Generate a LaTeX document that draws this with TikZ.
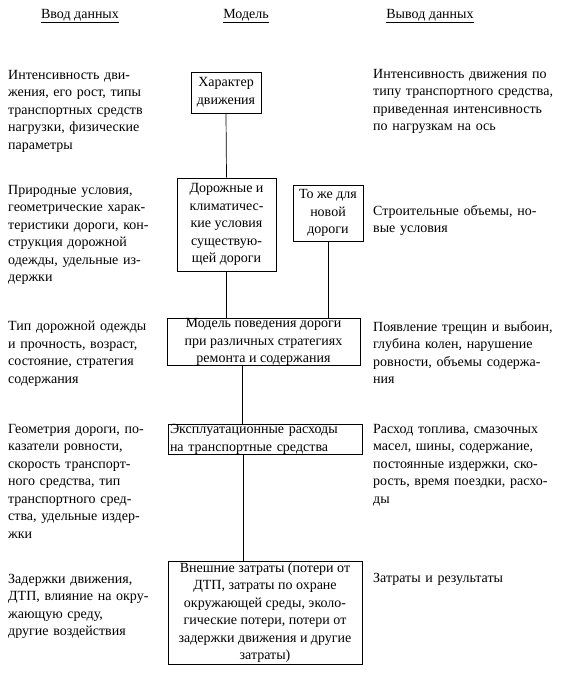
\documentclass[tikz,border=0pt]{standalone}
\usepackage{fontspec}
\setmainfont{Liberation Serif}
\usetikzlibrary{calc,positioning}
\newcommand{\jline}[1]{\makebox[\linewidth][s]{#1}}

\begin{document}
\begin{tikzpicture}[x=1pt,y=-1pt]
  \tikzset{
    lbl/.style={font=\fontsize{14}{17.5}\selectfont},
    head/.style={lbl,inner sep=0pt},
    lcol/.style={lbl,anchor=north west,text width=156pt,align=left,inner sep=0pt},
    rcol/.style={lcol,text width=196pt},
    blk/.style={lbl,draw=black,line width=0.7pt,inner sep=0pt,align=center},
    link/.style={draw=black,line width=0.7pt},
  }
  \useasboundingbox (0,0) rectangle (574,680);

  % column heads
  \node[head] (hin) at (80,16) {\underline{Ввод данных}};
  \node[head] (hmod) at (246,16) {\underline{Модель}};
  \node[head] (hout) at (430,16) {\underline{Вывод данных}};

  % model boxes
  \node[blk,minimum width=70pt,minimum height=41pt] (traffic) at (226,92.5) {Характер\\движения};
  \node[blk,minimum width=99pt,minimum height=93pt] (road) at (226.5,224.5)
    {Дорожные и\\климатичес-\\кие условия\\существую-\\щей дороги};
  \node[blk,minimum width=70pt,minimum height=56pt] (newroad) at (328,213) {То же для\\новой\\дороги};
  \node[blk,minimum width=193pt,minimum height=42pt] (behav) at (263.5,342)
    {Модель поведения дороги\\при различных стратегиях\\ремонта и содержания};
  \node[blk,minimum width=194pt,minimum height=29pt,text width=190pt,align=left] (vehcost) at (265,439.5)
    {Эксплуатационные расходы\\на транспортные средства};
  \node[blk,minimum width=194pt,minimum height=103pt] (extcost) at (265,612.5)
    {Внешние затраты (потери от\\ДТП, затраты по охране\\окружающей среды, эколо-\\гические потери, потери от\\задержки движения и другие\\затраты)};

  \coordinate (c4) at ([xshift=-21pt]behav.south);
  \coordinate (c5) at ([xshift=-22pt]vehcost.south);
  \draw[link] (traffic.south) -- (road.north);
  \draw[link] (road.south) -- (road.south |- behav.north);
  \draw[link] (newroad.south) -- (newroad.south |- behav.north);
  \draw[link] (c4) -- (c4 |- vehcost.north);
  \draw[link] (c5) -- (c5 |- extcost.north);

  % input data
  \node[lcol] (in1) at (8,70) {\jline{Интенсивность дви-}\\\jline{жения, его рост, типы}\\
    \jline{транспортных средств}\\\jline{нагрузки, физические}\\параметры};
  \node[lcol] (in2) at (8,185) {\jline{Природные условия,}\\\jline{геометрические харак-}\\
    \jline{теристики дороги, кон-}\\\jline{струкция дорожной}\\\jline{одежды, удельные из-}\\держки};
  \node[lcol] (in3) at (8,321) {\jline{Тип дорожной одежды}\\\jline{и прочность, возраст,}\\
    \jline{состояние, стратегия}\\содержания};
  \node[lcol] (in4) at (8,424) {\jline{Геометрия дороги, по-}\\\jline{казатели ровности,}\\
    \jline{скорость транспорт-}\\\jline{ного средства, тип}\\\jline{транспортного сред-}\\
    \jline{ства, удельные издер-}\\жки};
  \node[lcol] (in5) at (8,574) {\jline{Задержки движения,}\\\jline{ДТП, влияние на окру-}\\
    жающую среду,\\другие воздействия};

  % output data
  \node[rcol] (out1) at (373,69) {\jline{Интенсивность движения по}\\\jline{типу транспортного средства,}\\
    \jline{приведенная интенсивность}\\по нагрузкам на ось};
  \node[rcol] (out2) at (373,205) {\jline{Строительные объемы, но-}\\вые условия};
  \node[rcol] (out3) at (373,321) {\jline{Появление трещин и выбоин,}\\\jline{глубина колен, нарушение}\\
    \jline{ровности, объемы содержа-}\\ния};
  \node[rcol] (out4) at (373,424) {\jline{Расход топлива, смазочных}\\\jline{масел, шины, содержание,}\\
    \jline{постоянные издержки, ско-}\\\jline{рость, время поездки, расхо-}\\ды};
  \node[rcol] (out5) at (373,573) {Затраты и результаты};
\end{tikzpicture}
\end{document}
